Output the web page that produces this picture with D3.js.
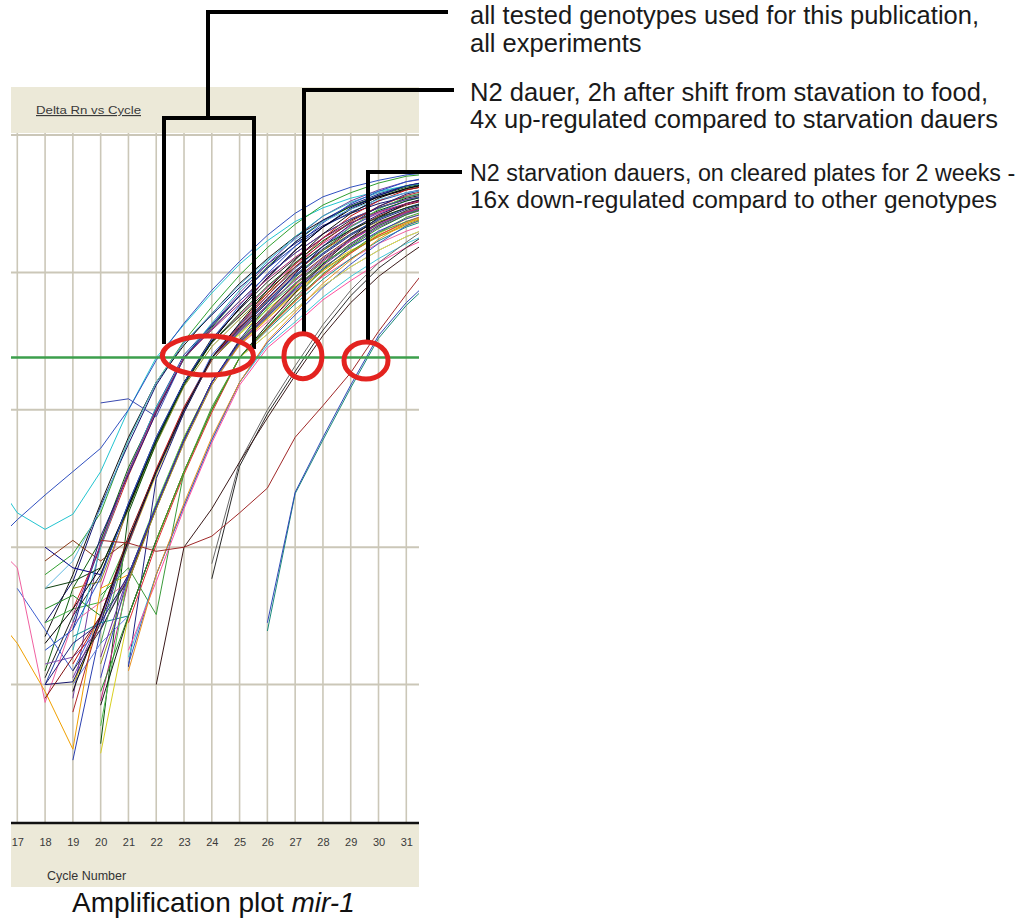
<!DOCTYPE html>
<html>
<head>
<meta charset="utf-8">
<script src="https://d3js.org/d3.v7.min.js"></script>
<style>
body { margin: 0; background: #fff; }
svg { display: block; }
</style>
</head>
<body>
<svg id="amp" width="1024" height="919"></svg>
<script>
var _ = null;

// cycles the curve arrays are sampled at
var cycles = [16, 17, 18, 19, 20, 21, 22, 23, 24, 25, 26, 27, 28, 29, 30, 31, 32];
var cycleTicks = [17, 18, 19, 20, 21, 22, 23, 24, 25, 26, 27, 28, 29, 30, 31];
var decadeTicks = [0.001, 0.01, 0.1, 1, 10];
var threshold = 0.24;

// log10(Delta Rn) per cycle, all genotypes / all experiments
var allLog = [
  [-1.45,-1.75,-1.87,-1.76,-1.45,-1.00,-0.62,-0.38,-0.15,0.06,0.23,0.37,0.47,0.54,0.59,0.63,0.66],
  [-2.00,-1.80,-1.62,-1.45,-1.28,-1.00,-0.64,-0.37,-0.13,0.08,0.27,0.43,0.55,0.62,0.67,0.71,0.73],
  [_,_,-2.20,-2.05,-1.75,-1.22,-0.80,-0.50,-0.25,-0.02,0.18,0.35,0.49,0.58,0.65,0.70,0.72],
  [_,_,-2.55,-2.25,-1.70,-1.25,-0.82,-0.51,-0.31,-0.11,0.06,0.21,0.34,0.43,0.50,0.55,0.59],
  [_,_,_,-3.10,-1.95,-1.45,-1.00,-0.62,-0.38,-0.15,0.06,0.25,0.41,0.52,0.60,0.66,0.69],
  [_,_,-2.65,-2.20,-1.68,-1.20,-0.80,-0.53,-0.30,-0.08,0.10,0.26,0.38,0.48,0.55,0.60,0.64],
  [_,_,_,-2.45,-2.00,-1.48,-1.02,-0.62,-0.41,-0.21,-0.02,0.14,0.28,0.39,0.47,0.53,0.57],
  [_,_,-2.90,-2.30,-1.95,-1.42,-1.00,-0.63,-0.40,-0.17,0.04,0.22,0.37,0.48,0.56,0.62,0.66],
  [_,_,_,_,-2.30,-1.70,-1.22,-0.80,-0.51,-0.31,-0.11,0.06,0.21,0.34,0.43,0.50,0.55],
  [_,_,-3.00,-2.55,-1.98,-1.45,-0.98,-0.60,-0.38,-0.17,0.03,0.19,0.33,0.44,0.52,0.58,0.62],
  [_,_,_,-2.30,-2.25,-1.72,-1.25,-0.83,-0.54,-0.34,-0.15,0.01,0.16,0.28,0.37,0.44,0.49],
  [_,_,-2.00,-2.15,-2.20,-1.70,-1.22,-0.80,-0.50,-0.26,-0.04,0.16,0.33,0.47,0.56,0.63,0.67],
  [_,_,-2.55,-2.45,-2.40,-1.95,-1.45,-1.00,-0.62,-0.41,-0.21,-0.02,0.14,0.28,0.39,0.47,0.53],
  [_,_,_,-3.00,-2.55,-1.98,-1.47,-1.02,-0.62,-0.45,-0.27,-0.10,0.04,0.16,0.26,0.34,0.41],
  [_,_,-2.95,-2.50,-2.20,-1.68,-1.20,-0.80,-0.48,-0.27,-0.07,0.10,0.25,0.38,0.47,0.54,0.58],
  [_,_,-2.10,-1.95,-2.10,-1.95,-1.45,-1.00,-0.64,-0.43,-0.24,-0.05,0.11,0.25,0.36,0.44,0.50],
  [_,_,_,-2.75,-2.00,-1.45,-0.98,-0.62,-0.37,-0.13,0.08,0.26,0.41,0.51,0.58,0.63,0.66],
  [_,_,-2.85,-2.80,-2.60,-2.20,-1.70,-1.22,-0.80,-0.51,-0.31,-0.11,0.06,0.21,0.34,0.43,0.49],
  [_,_,_,-2.85,-2.50,-1.95,-1.43,-0.98,-0.62,-0.38,-0.15,0.06,0.25,0.41,0.52,0.60,0.64],
  [_,-2.30,-2.60,-2.90,-2.50,-1.98,-1.45,-1.00,-0.60,-0.38,-0.17,0.03,0.19,0.33,0.44,0.52,0.57],
  [_,_,_,_,-3.43,-1.75,-1.24,-0.81,-0.51,-0.30,-0.10,0.07,0.23,0.36,0.45,0.52,0.57],
  [-1.95,-2.15,-3.13,-2.55,-2.40,-2.25,-1.72,-1.24,-0.82,-0.53,-0.36,-0.18,-0.03,0.10,0.21,0.30,0.37],
  [_,_,-3.00,-2.98,-2.55,-1.95,-1.45,-1.02,-0.62,-0.40,-0.19,0.01,0.17,0.31,0.42,0.50,0.55],
  [-2.45,-2.70,-3.05,-3.47,-2.30,-2.20,-1.70,-1.20,-0.80,-0.53,-0.34,-0.15,0.01,0.15,0.27,0.36,0.42],
  [_,_,-2.45,-2.35,-2.50,-2.25,-1.70,-1.22,-0.80,-0.51,-0.31,-0.11,0.06,0.21,0.34,0.43,0.49],
  [_,_,-2.70,-2.45,-2.15,-1.70,-1.22,-0.80,-0.50,-0.26,-0.04,0.16,0.33,0.46,0.55,0.61,0.65],
  [_,_,_,-3.55,-2.60,-1.95,-1.46,-1.00,-0.62,-0.41,-0.21,-0.02,0.14,0.28,0.39,0.47,0.53],
  [_,_,_,-2.65,-2.55,-2.50,-1.95,-1.45,-1.00,-0.62,-0.42,-0.23,-0.05,0.10,0.23,0.33,0.40],
  [_,_,_,_,-3.12,-2.25,-1.70,-1.22,-0.80,-0.51,-0.30,-0.09,0.08,0.23,0.35,0.44,0.50],
  [_,_,-3.10,-2.80,-2.50,-1.92,-1.44,-1.00,-0.62,-0.41,-0.20,0.00,0.16,0.30,0.41,0.49,0.54],
  [_,_,_,-3.00,-2.70,-2.50,-1.95,-1.45,-1.00,-0.62,-0.45,-0.27,-0.10,0.04,0.16,0.26,0.34],
  [_,_,_,_,-3.30,-2.20,-1.68,-1.20,-0.80,-0.50,-0.26,-0.04,0.16,0.33,0.46,0.55,0.60],
  [_,_,_,_,_,-2.87,-1.50,-1.02,-0.62,-0.42,-0.22,-0.03,0.13,0.27,0.38,0.46,0.52],
  [_,_,_,_,-3.50,-2.50,-1.95,-1.45,-1.00,-0.62,-0.41,-0.21,-0.02,0.14,0.28,0.39,0.46],
  [_,_,_,_,-2.80,-2.20,-1.70,-1.22,-0.80,-0.52,-0.32,-0.12,0.05,0.20,0.33,0.42,0.48],
  [_,_,_,_,-3.15,-2.50,-1.95,-1.45,-1.00,-0.62,-0.38,-0.15,0.06,0.25,0.40,0.50,0.56],
  [_,_,_,_,_,-2.55,-1.98,-1.47,-1.02,-0.62,-0.41,-0.21,-0.02,0.14,0.27,0.37,0.44],
  [_,_,_,_,_,-2.80,-2.20,-1.70,-1.22,-0.80,-0.53,-0.36,-0.18,-0.03,0.10,0.21,0.30],
  [_,_,_,_,-2.35,-2.15,-2.49,-1.45,-0.98,-0.62,-0.40,-0.20,-0.01,0.15,0.29,0.40,0.47],
  [_,_,_,_,_,-2.85,-2.20,-1.70,-1.22,-0.80,-0.51,-0.31,-0.11,0.06,0.21,0.34,0.42],
  [_,_,_,_,_,-2.75,-2.25,-1.72,-1.24,-0.82,-0.55,-0.38,-0.20,-0.06,0.07,0.18,0.27],
  [_,_,_,_,_,_,-1.95,-1.45,-1.00,-0.62,-0.45,-0.27,-0.10,0.04,0.16,0.26,0.34],
  [_,_,_,_,-0.95,-0.92,-1.05,-0.62,-0.41,-0.21,-0.02,0.14,0.28,0.39,0.47,0.53,0.57],
  [_,_,_,-2.60,-1.92,-1.47,-1.02,-0.62,-0.39,-0.17,0.03,0.22,0.38,0.49,0.57,0.63,0.67],
  [_,_,-2.30,-2.25,-2.15,-1.72,-1.22,-0.82,-0.51,-0.32,-0.13,0.04,0.19,0.31,0.40,0.47,0.52],
  [_,_,_,-3.20,-2.50,-1.97,-1.45,-1.00,-0.62,-0.39,-0.17,0.04,0.22,0.37,0.48,0.56,0.61],
  [_,_,-2.75,-2.60,-2.22,-1.68,-1.20,-0.80,-0.49,-0.24,-0.01,0.19,0.36,0.50,0.59,0.66,0.70],
  [_,_,_,-2.90,-2.60,-2.22,-1.72,-1.22,-0.80,-0.50,-0.29,-0.08,0.09,0.24,0.36,0.45,0.51],
  [_,_,_,_,-2.70,-1.95,-1.45,-1.00,-0.62,-0.44,-0.25,-0.08,0.07,0.19,0.29,0.37,0.43],
  [_,_,-3.00,-2.70,-2.55,-2.20,-1.70,-1.22,-0.80,-0.49,-0.24,-0.01,0.19,0.35,0.48,0.57,0.62],
  [_,_,_,-2.95,-2.52,-1.95,-1.45,-1.00,-0.62,-0.43,-0.24,-0.06,0.10,0.24,0.35,0.43,0.49],
  [_,_,_,_,-2.85,-2.25,-1.72,-1.24,-0.82,-0.52,-0.33,-0.14,0.02,0.15,0.26,0.35,0.42],
  [_,_,_,-3.05,-2.50,-1.95,-1.45,-1.00,-0.62,-0.37,-0.13,0.09,0.28,0.43,0.54,0.61,0.66],
  [_,_,_,_,-3.05,-2.50,-1.95,-1.45,-1.00,-0.62,-0.40,-0.18,0.02,0.19,0.32,0.42,0.49],
  [_,_,_,_,-2.95,-2.20,-1.70,-1.22,-0.80,-0.51,-0.32,-0.13,0.03,0.18,0.30,0.39,0.45],
  [_,_,-2.30,-2.10,-1.72,-1.22,-0.80,-0.51,-0.30,-0.09,0.09,0.24,0.37,0.46,0.53,0.58,0.61],
  [_,_,_,-2.50,-1.98,-1.45,-1.00,-0.62,-0.42,-0.23,-0.05,0.11,0.25,0.36,0.44,0.50,0.54],
  [_,_,_,_,_,-2.90,-2.20,-1.68,-1.20,-0.80,-0.50,-0.29,-0.08,0.09,0.24,0.36,0.44]
];
var allColors = [
  "#22c4d0","#3050c0","#30a030","#101070","#7040a0","#111111","#d02020","#106010",
  "#d03090","#2040a0","#909020","#000080","#40b040","#e0c800","#202020","#8a3a1a",
  "#30b0c0","#8050b0","#c01010","#4060d0","#0a500a","#f060a0","#15156a","#f0a000",
  "#208a20","#000000","#2a3fb0","#109090","#c02080","#801010","#6080e0","#50c050",
  "#202080","#d8d020","#6a2a9a","#181818","#e03030","#40c8d8","#3a9a3a","#3a58c8",
  "#ff4fa0","#e8e040","#3a4ab0","#1a1a80","#0f3f0f","#b02828","#2850c8","#303030",
  "#50a050","#20207a","#7a3aa8","#9a9a20","#0a0a0a","#2a8a2a","#3a3ab8","#60b8e0",
  "#a02070","#e89020"
];

// N2 dauer, 2h after shift from starvation to food
var fedLog = [
  [_,_,_,_,_,_,_,_,-2.23,-1.41,-1.03,-0.72,-0.42,-0.17,0.03,0.18,0.32],
  [_,_,_,_,_,_,_,_,-2.12,-1.38,-1.00,-0.68,-0.38,-0.13,0.07,0.22,0.36],
  [_,_,_,_,_,_,-3.00,-2.00,-1.72,-1.38,-1.06,-0.75,-0.46,-0.22,-0.03,0.12,0.26]
];
var fedColors = ["#2a2a2a", "#6a6a6a", "#3a1a1a"];

// N2 starvation dauers, cleared plates 2 weeks
var starvedLog = [
  [_,_,_,_,-1.95,-1.97,-2.03,-2.00,-1.92,-1.75,-1.57,-1.20,-0.97,-0.73,-0.43,-0.16,0.10],
  [_,_,_,_,_,_,_,_,_,_,-2.61,-1.61,-1.22,-0.84,-0.48,-0.24,-0.05],
  [_,_,_,_,_,_,_,_,_,_,-2.55,-1.60,-1.20,-0.82,-0.46,-0.22,-0.03]
];
var starvedColors = ["#a02828", "#1a8a7a", "#3048b8"];

// cycle where each circled group crosses the threshold
var groupCt = [23.86, 27.28, 29.55];

var notes = [
  "all tested genotypes used for this publication,",
  "all experiments",
  "N2 dauer, 2h after shift from stavation to food,",
  "4x up-regulated compared to starvation dauers",
  "N2 starvation dauers, on cleared plates for 2 weeks -",
  "16x down-regulated compard to other genotypes"
];

var svg = d3.select('svg#amp');
var beige = "#ECE9D8";
var grid = "#cbc7b8";
var left = 11, right = 419, top_ = 133, bottom = 823;

var x = d3.scaleLinear().domain([17, 31]).range([17.3, 406.3]);
var y = d3.scaleLog().domain([1e-4, 10]).range([822, 135]);

// header band
svg.append('rect').attr('x', left).attr('y', 87).attr('width', right - left).attr('height', top_ - 87).attr('fill', beige);
svg.append('text').attr('x', 36).attr('y', 114)
  .attr('font-family', 'Liberation Sans, Arial, sans-serif').attr('font-size', 11.5)
  .attr('fill', '#3a3a3a').attr('text-decoration', 'underline')
  .attr('textLength', 105).attr('lengthAdjust', 'spacingAndGlyphs')
  .text('Delta Rn vs Cycle');

// grid
svg.append('g').selectAll('line').data(cycleTicks).join('line')
  .attr('x1', d => x(d)).attr('x2', d => x(d))
  .attr('y1', top_).attr('y2', bottom)
  .attr('stroke', grid).attr('stroke-width', 1.6);
svg.append('g').selectAll('line').data(decadeTicks).join('line')
  .attr('x1', left).attr('x2', right)
  .attr('y1', d => y(d)).attr('y2', d => y(d))
  .attr('stroke', grid).attr('stroke-width', 2);

// curves
svg.append('clipPath').attr('id', 'plotclip').append('rect')
  .attr('x', left).attr('y', top_).attr('width', right - left).attr('height', bottom - top_);

var line = d3.line()
  .defined(d => d[1] != null)
  .x(d => x(d[0]))
  .y(d => y(Math.pow(10, d[1])));

var curves = svg.append('g').attr('clip-path', 'url(#plotclip)');

function draw_curves(series, colors){
  series.forEach(function(vals, i){
    curves.append('path')
      .datum(cycles.map((c, j) => [c, vals[j]]))
      .attr('d', line)
      .attr('fill', 'none')
      .attr('stroke', colors[i % colors.length])
      .attr('stroke-width', 1);
  });
}

draw_curves(allLog, allColors);
draw_curves(fedLog, fedColors);
draw_curves(starvedLog, starvedColors);

// threshold
svg.append('line').attr('x1', left).attr('x2', right)
  .attr('y1', y(threshold)).attr('y2', y(threshold))
  .attr('stroke', '#3c9f4c').attr('stroke-width', 2.5);

// x axis band
svg.append('rect').attr('x', left).attr('y', bottom).attr('width', right - left).attr('height', 64).attr('fill', beige);
var xAxis = svg.append('g').attr('transform', 'translate(0,' + bottom + ')')
  .call(d3.axisBottom(x).tickValues(cycleTicks).tickSize(0).tickPadding(15));
xAxis.select('.domain').remove();
xAxis.selectAll('text').attr('font-family', 'Liberation Sans, Arial, sans-serif')
  .attr('font-size', 11).attr('fill', '#3a3a3a');
svg.append('line').attr('x1', left).attr('x2', right).attr('y1', bottom).attr('y2', bottom)
  .attr('stroke', '#111').attr('stroke-width', 2.5);
svg.append('text').attr('x', 47).attr('y', 880)
  .attr('font-family', 'Liberation Sans, Arial, sans-serif').attr('font-size', 12.5)
  .attr('fill', '#333').text('Cycle Number');

// title
var title = svg.append('text').attr('x', 72).attr('y', 912)
  .attr('font-family', 'Liberation Sans, Arial, sans-serif').attr('font-size', 28).attr('fill', '#111');
title.append('tspan').text('Amplification plot ');
title.append('tspan').attr('font-style', 'italic').text('mir-1');

// brackets
var bracket = {fill: 'none', stroke: '#000', 'stroke-width': 4, 'stroke-linejoin': 'miter'};
function draw_bracket(d){
  var p = svg.append('path').attr('d', d);
  for (var k in bracket) p.attr(k, bracket[k]);
}
draw_bracket("M 448 12 H 208 V 118 M 164 344 V 118 H 254 V 349");
draw_bracket("M 454 90 H 304 V 332");
draw_bracket("M 462 172 H 368 V 341");

// circles round threshold crossings
var ring = [[45.5, 19.5, -2], [19, 22.5, -1.3], [22, 18.5, 3]];
groupCt.forEach(function(ct, i){
  svg.append('ellipse')
    .attr('cx', x(ct)).attr('cy', y(threshold) + ring[i][2])
    .attr('rx', ring[i][0]).attr('ry', ring[i][1])
    .attr('fill', 'none').attr('stroke', '#e3231f').attr('stroke-width', 5);
});

// notes
var noteY = [24, 52, 101, 128, 181, 208];
var noteSize = [25.5, 25.5, 25.5, 25.5, 23.3, 23.3];
var noteW = [509, 0, 518, 528, 0, 527];
notes.forEach(function(t, i){
  var n = svg.append('text').attr('x', 470).attr('y', noteY[i])
    .attr('font-family', 'Liberation Sans, Arial, sans-serif').attr('font-size', noteSize[i])
    .attr('fill', '#1a1a1a').text(t);
  if (noteW[i]) n.attr('textLength', noteW[i]).attr('lengthAdjust', 'spacingAndGlyphs');
});
</script>
</body>
</html>
